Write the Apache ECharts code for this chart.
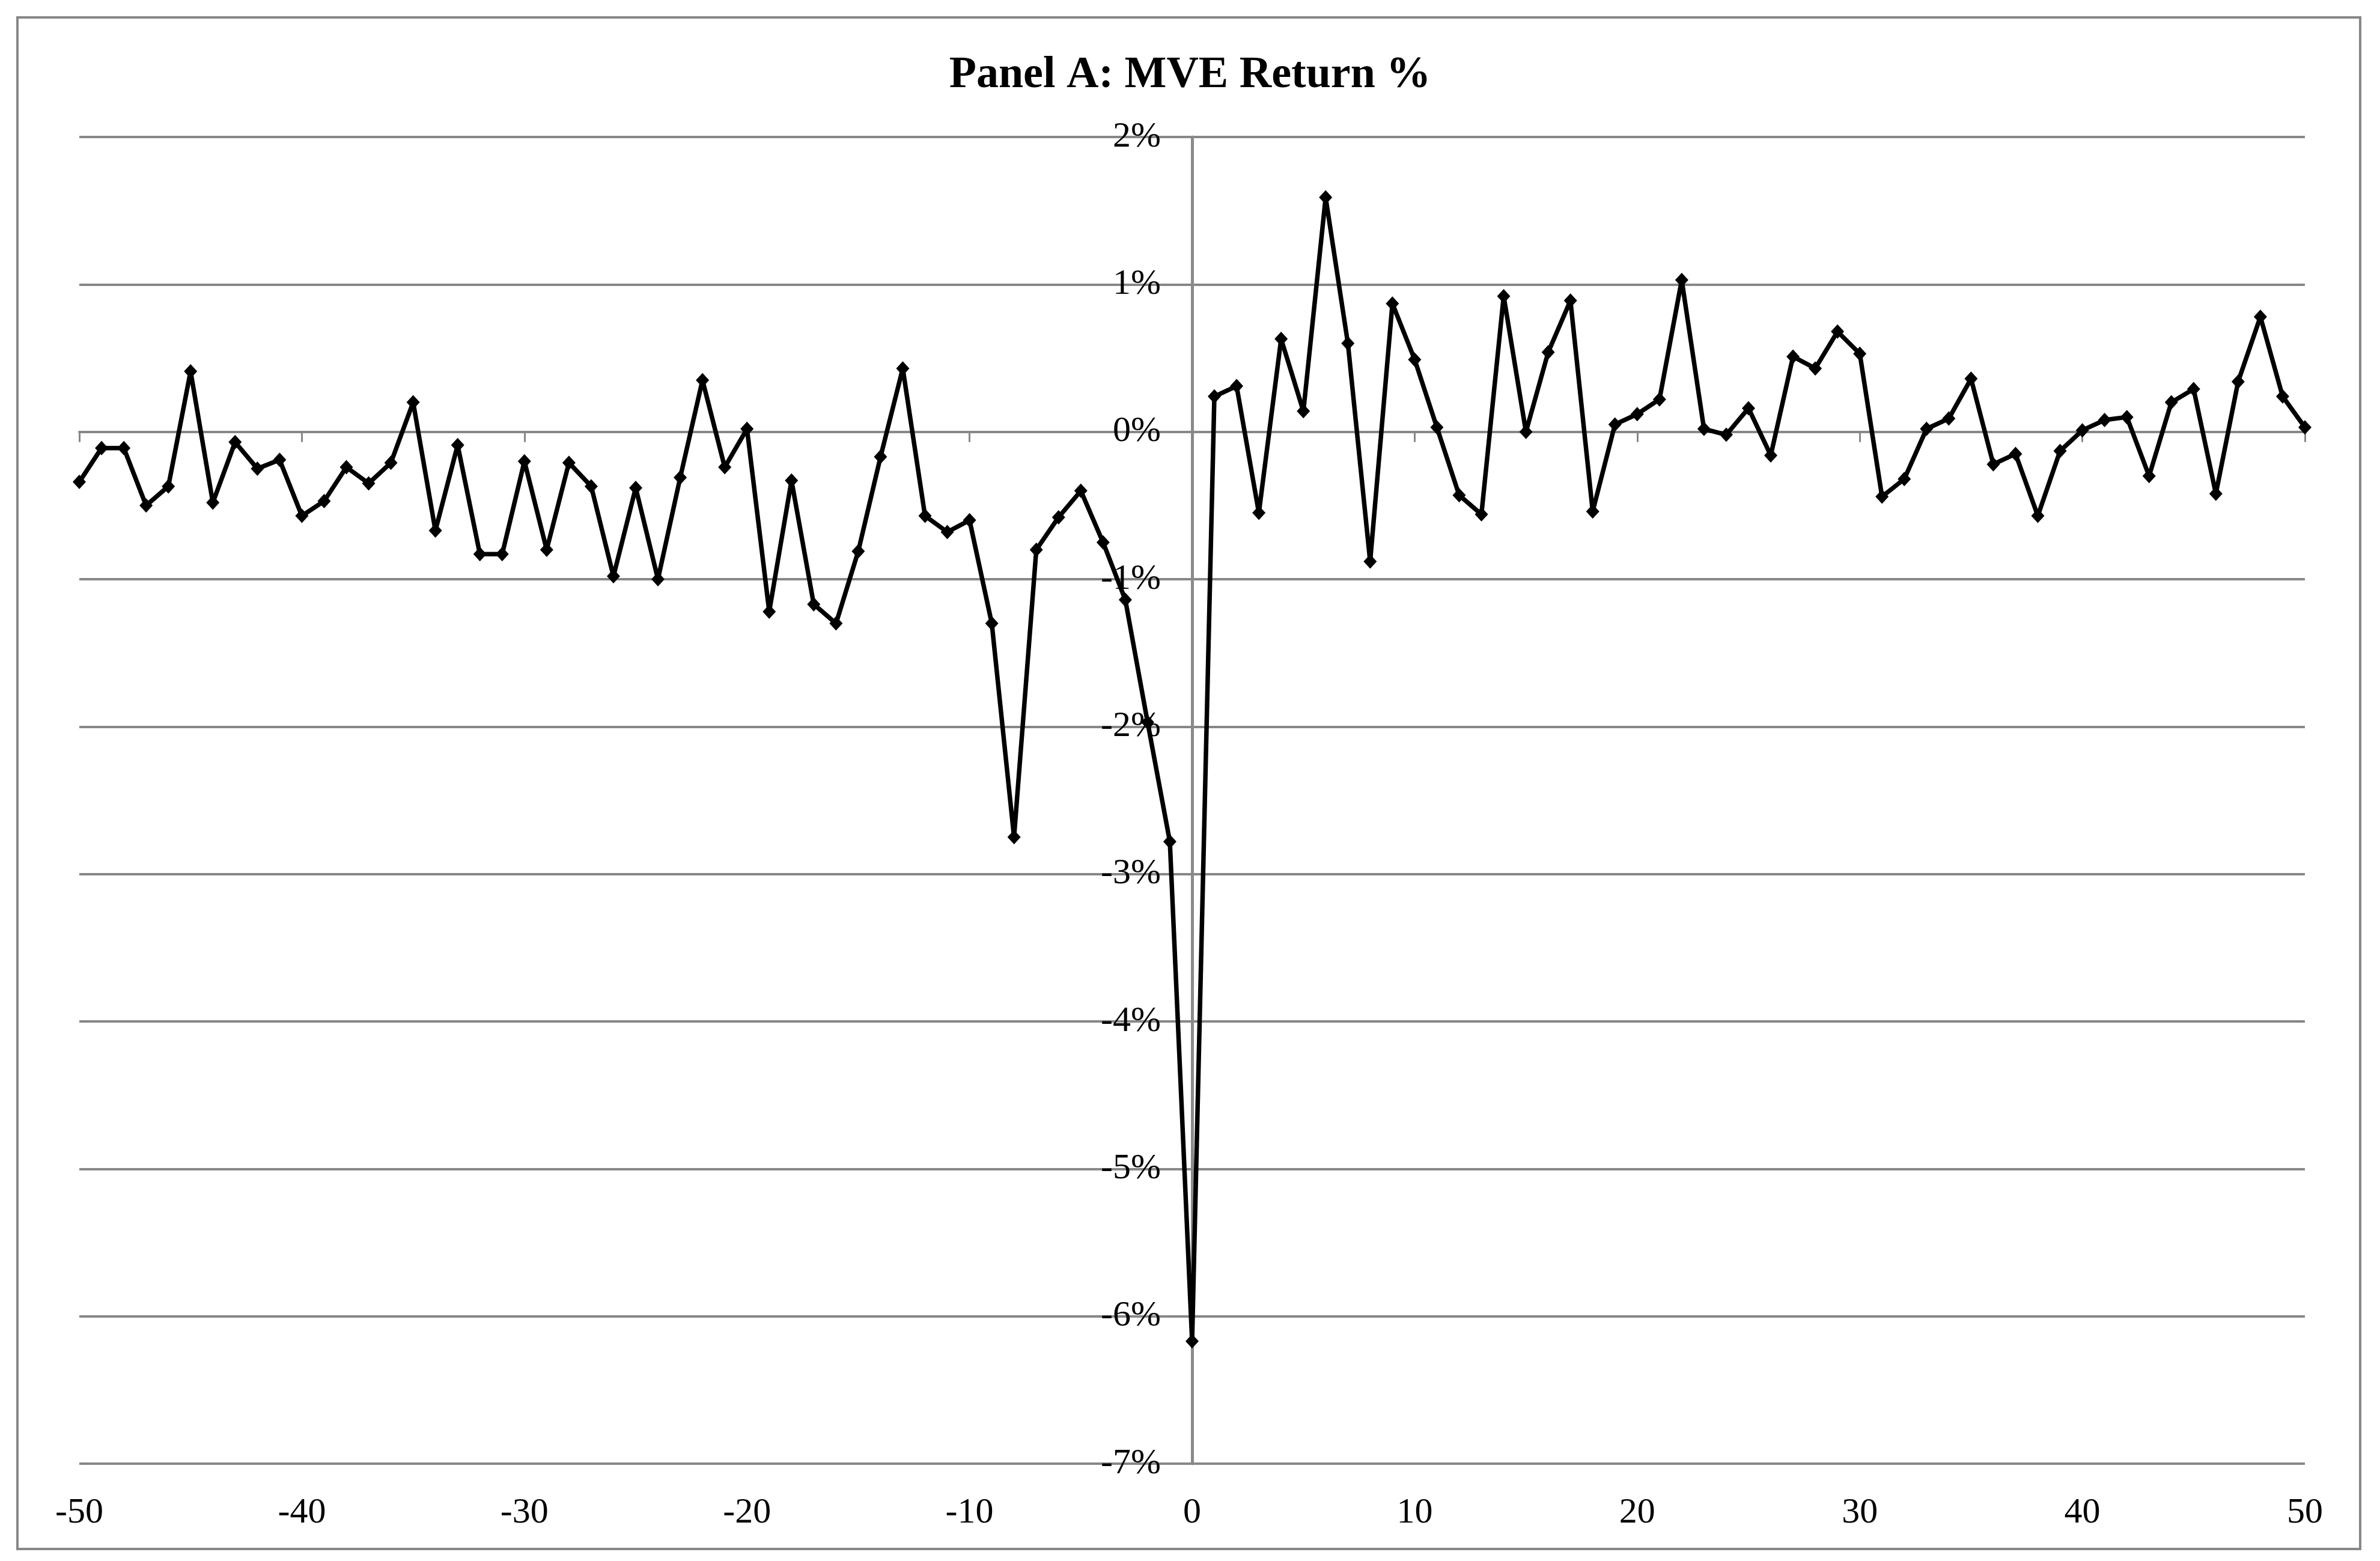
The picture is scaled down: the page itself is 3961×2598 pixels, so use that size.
<!DOCTYPE html>
<html>
<head>
<meta charset="utf-8">
<script src="https://cdn.jsdelivr.net/npm/echarts@6/dist/echarts.min.js"></script>
<style>
html, body { margin: 0; padding: 0; background: #ffffff; }
#chart { width: 3961px; height: 2598px; }
</style>
</head>
<body>
<div id="chart"></div>
<script>
const titleText = 'Panel A: MVE Return %';

const days = [
  -50, -49, -48, -47, -46, -45, -44, -43, -42, -41,
  -40, -39, -38, -37, -36, -35, -34, -33, -32, -31,
  -30, -29, -28, -27, -26, -25, -24, -23, -22, -21,
  -20, -19, -18, -17, -16, -15, -14, -13, -12, -11,
  -10, -9, -8, -7, -6, -5, -4, -3, -2, -1,
  0, 1, 2, 3, 4, 5, 6, 7, 8, 9,
  10, 11, 12, 13, 14, 15, 16, 17, 18, 19,
  20, 21, 22, 23, 24, 25, 26, 27, 28, 29,
  30, 31, 32, 33, 34, 35, 36, 37, 38, 39,
  40, 41, 42, 43, 44, 45, 46, 47, 48, 49,
  50
];

const mveReturnPct = [
  -0.34, -0.11, -0.11, -0.50, -0.37, 0.41, -0.48, -0.07, -0.25, -0.19,
  -0.57, -0.47, -0.24, -0.35, -0.21, 0.20, -0.67, -0.09, -0.83, -0.83,
  -0.20, -0.80, -0.21, -0.37, -0.98, -0.38, -1.00, -0.31, 0.35, -0.24,
  0.02, -1.22, -0.33, -1.17, -1.30, -0.81, -0.17, 0.43, -0.57, -0.68,
  -0.60, -1.30, -2.75, -0.80, -0.58, -0.40, -0.75, -1.14, -1.97, -2.78,
  -6.17, 0.24, 0.31, -0.55, 0.63, 0.14, 1.59, 0.60, -0.88, 0.87,
  0.49, 0.03, -0.43, -0.56, 0.92, 0.00, 0.54, 0.89, -0.54, 0.05,
  0.12, 0.22, 1.03, 0.02, -0.02, 0.16, -0.16, 0.51, 0.43, 0.68,
  0.53, -0.44, -0.32, 0.02, 0.09, 0.36, -0.22, -0.15, -0.57, -0.13,
  0.01, 0.08, 0.10, -0.30, 0.20, 0.29, -0.42, 0.34, 0.78, 0.24,
  0.03
];

const xMin = -50, xMax = 50, xStep = 10;
const yMin = -7, yMax = 2, yStep = 1;

const FONT = '"Liberation Serif", "DejaVu Serif", serif';
const GRID_COLOR = '#878787';

const W = 3961, H = 2598;
const gridLeft = 132, gridRight = 125, gridTop = 228, gridBottom = 162;
const plotW = W - gridLeft - gridRight;
const plotH = H - gridTop - gridBottom;
// distance of the zero lines from the grid's left / bottom edges (used as axis offsets)
const zeroFromLeft = (0 - xMin) / (xMax - xMin) * plotW;
const zeroFromBottom = (0 - yMin) / (yMax - yMin) * plotH;

const chart = echarts.init(document.getElementById('chart'), null, { renderer: 'canvas' });

const option = {
  backgroundColor: '#ffffff',
  animation: false,
  title: {
    text: titleText,
    left: 'center',
    top: 84,
    textStyle: { fontFamily: FONT, fontWeight: 'bold', fontSize: 74, color: '#000000' }
  },
  graphic: [{
    type: 'rect',
    shape: { x: 29, y: 29, width: 3899, height: 2549 },
    style: { fill: 'none', stroke: GRID_COLOR, lineWidth: 4 },
    silent: true,
    z: -10
  }],
  grid: {
    left: gridLeft, right: gridRight, top: gridTop, bottom: gridBottom,
    containLabel: false, outerBoundsMode: 'none'
  },
  xAxis: [
    {
      type: 'value', min: xMin, max: xMax, interval: xStep,
      position: 'bottom', offset: -zeroFromBottom,
      axisLine: { show: true, onZero: false, lineStyle: { color: GRID_COLOR, width: 4 } },
      axisTick: { show: true, inside: false, length: 17, lineStyle: { color: GRID_COLOR, width: 3 } },
      axisLabel: { show: false },
      splitLine: { show: false }
    },
    {
      type: 'value', min: xMin, max: xMax, interval: xStep, position: 'bottom',
      axisLine: { show: false, onZero: false },
      axisTick: { show: false },
      axisLabel: { show: true, margin: 52, fontFamily: FONT, fontSize: 60, color: '#000000' },
      splitLine: { show: false }
    }
  ],
  yAxis: {
    type: 'value', min: yMin, max: yMax, interval: yStep,
    position: 'left', offset: -zeroFromLeft,
    axisLine: { show: true, onZero: false, lineStyle: { color: '#8a8a8a', width: 5 } },
    axisTick: { show: true, inside: false, length: 17, lineStyle: { color: GRID_COLOR, width: 3 } },
    axisLabel: { show: true, margin: 52, fontFamily: FONT, fontSize: 60, color: '#000000', formatter: '{value}%' },
    splitLine: { show: true, lineStyle: { color: GRID_COLOR, width: 4 } }
  },
  series: [{
    type: 'line',
    xAxisIndex: 0,
    data: days.map((d, i) => [d, mveReturnPct[i]]),
    symbol: 'diamond',
    symbolSize: [22, 24],
    showAllSymbol: true,
    lineStyle: { color: '#000000', width: 7.5 },
    itemStyle: { color: '#000000' },
    z: 5
  }]
};

chart.setOption(option);
</script>
</body>
</html>
